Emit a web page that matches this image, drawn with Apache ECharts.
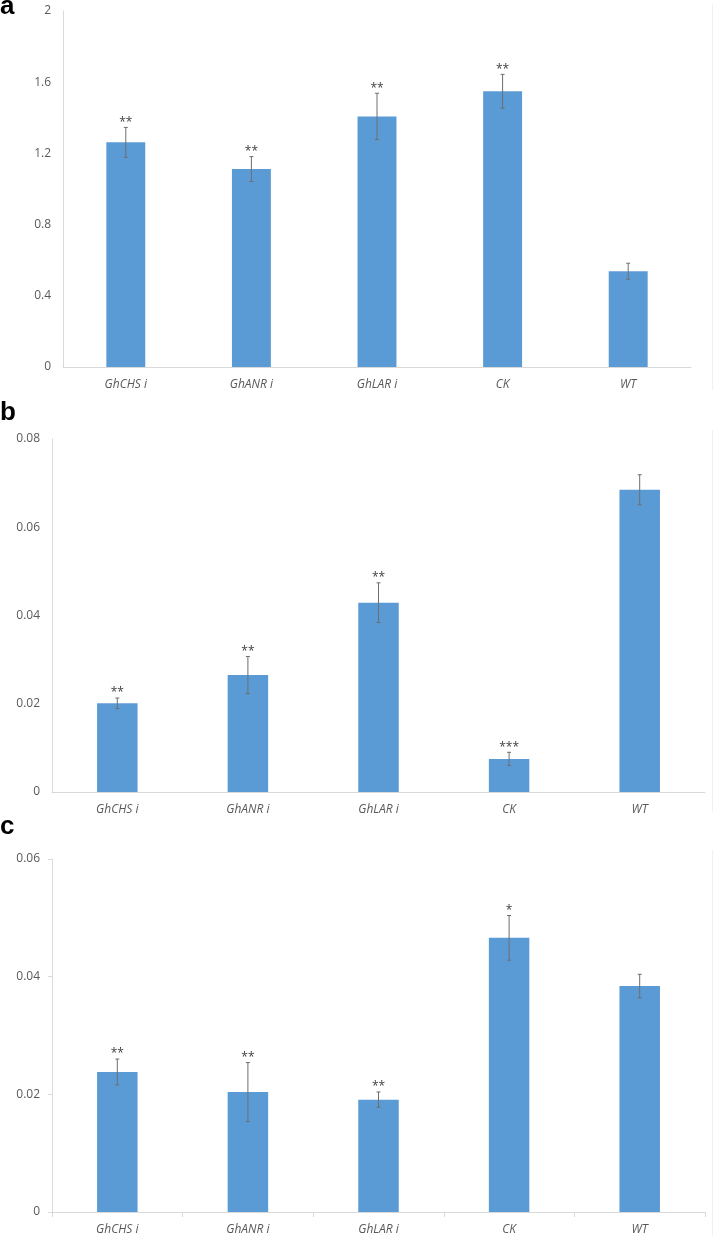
<!DOCTYPE html>
<html>
<head>
<meta charset="utf-8">
<style>
  html, body { margin: 0; padding: 0; background: #fff; }
  #chart { width: 714px; height: 1241px; }
</style>
<script src="https://cdn.jsdelivr.net/npm/echarts@6/dist/echarts.min.js"></script>
</head>
<body>
<div id="chart"></div>
<script>
// ---- data ----
var categories = ['GhCHS i', 'GhANR i', 'GhLAR i', 'CK', 'WT'];

var valuesA = [1.262, 1.112, 1.408, 1.549, 0.538];
var errorsA = [0.084, 0.070, 0.130, 0.095, 0.045];
var starsA  = ['**', '**', '**', '**', ''];

var valuesB = [0.0201, 0.0265, 0.0429, 0.0075, 0.0685];
var errorsB = [0.0012, 0.0042, 0.0045, 0.0015, 0.0034];
var starsB  = ['**', '**', '**', '***', ''];

var valuesC = [0.0238, 0.0204, 0.0191, 0.0466, 0.0384];
var errorsC = [0.0022, 0.0050, 0.0013, 0.0038, 0.0020];
var starsC  = ['**', '**', '**', '*', ''];

var yMaxA = 2,    yStepA = 0.4;
var yMaxB = 0.08, yStepB = 0.02;
var yMaxC = 0.06, yStepC = 0.02;

var panelLabels = ['a', 'b', 'c'];

// ---- styles ----
var BAR = '#5B9BD5';
var AXIS = '#D9D9D9';
var TXT = '#595959';
var ERR = '#6E6E6E';
var FONT = '"Open Sans", "DejaVu Sans", sans-serif';

var chart = echarts.init(document.getElementById('chart'), null, { renderer: 'canvas' });

function errData(vals, errs) {
  return vals.map(function (v, i) { return [i, v, errs[i]]; });
}

function makeErrSeries(idx, vals, errs, stars) {
  return {
    type: 'custom',
    xAxisIndex: idx,
    yAxisIndex: idx,
    z: 5,
    silent: true,
    data: errData(vals, errs),
    renderItem: function (params, api) {
      var x = api.value(0), y = api.value(1), e = api.value(2);
      var top = api.coord([x, y + e]);
      var bot = api.coord([x, y - e]);
      var cap = 2;
      var st = { stroke: ERR, lineWidth: 1 };
      var children = [
        { type: 'line', shape: { x1: top[0], y1: top[1], x2: bot[0], y2: bot[1] }, style: st },
        { type: 'line', shape: { x1: top[0] - cap, y1: top[1], x2: top[0] + cap, y2: top[1] }, style: st },
        { type: 'line', shape: { x1: bot[0] - cap, y1: bot[1], x2: bot[0] + cap, y2: bot[1] }, style: st }
      ];
      var s = stars[params.dataIndex];
      if (s) {
        children.push({
          type: 'text',
          style: {
            text: s, x: top[0], y: top[1] - 5,
            align: 'center', verticalAlign: 'middle',
            fill: '#404040', font: '12px ' + FONT
          }
        });
      }
      return { type: 'group', children: children };
    }
  };
}

var grids = [
  { left: 63, right: 23, top: 11, height: 356 },
  { left: 52, right: 9, top: 439, height: 353 },
  { left: 52, right: 9, top: 859, height: 353 }
];

function xAxisDef(idx, ticks) {
  return {
    type: 'category', gridIndex: idx, data: categories,
    axisLine: { lineStyle: { color: AXIS, width: 1 } },
    axisTick: { show: ticks, length: 5, lineStyle: { color: AXIS } },
    axisLabel: { color: TXT, fontStyle: 'italic', fontSize: 12, fontFamily: FONT, margin: 12 },
    splitLine: { show: false }
  };
}
function yAxisDef(idx, max, step, ticks) {
  return {
    type: 'value', gridIndex: idx, min: 0, max: max, interval: step,
    axisLine: { show: true, lineStyle: { color: AXIS, width: 1 } },
    axisTick: { show: ticks, length: 4, lineStyle: { color: AXIS } },
    axisLabel: { color: TXT, fontSize: 12, fontFamily: FONT, margin: 12 },
    splitLine: { show: false }
  };
}
function barSeries(idx, vals) {
  return {
    type: 'bar', xAxisIndex: idx, yAxisIndex: idx, data: vals,
    barWidth: '31%', itemStyle: { color: BAR }, silent: true, z: 2
  };
}

var option = {
  animation: false,
  backgroundColor: '#ffffff',
  grid: grids,
  xAxis: [xAxisDef(0, false), xAxisDef(1, false), xAxisDef(2, true)],
  yAxis: [yAxisDef(0, yMaxA, yStepA, false), yAxisDef(1, yMaxB, yStepB, false), yAxisDef(2, yMaxC, yStepC, true)],
  series: [
    barSeries(0, valuesA), makeErrSeries(0, valuesA, errorsA, starsA),
    barSeries(1, valuesB), makeErrSeries(1, valuesB, errorsB, starsB),
    barSeries(2, valuesC), makeErrSeries(2, valuesC, errorsC, starsC)
  ],
  graphic: [
    { type: 'text', left: 0, top: -6, style: { text: panelLabels[0], font: 'bold 26px "Liberation Sans", Arial, sans-serif', fill: '#000' } },
    { type: 'text', left: 0, top: 400, style: { text: panelLabels[1], font: 'bold 26px "Liberation Sans", Arial, sans-serif', fill: '#000' } },
    { type: 'text', left: 0, top: 814, style: { text: panelLabels[2], font: 'bold 26px "Liberation Sans", Arial, sans-serif', fill: '#000' } },
    { type: 'line', shape: { x1: 712.5, y1: 4, x2: 712.5, y2: 390 }, style: { stroke: '#F0F0F0', lineWidth: 1 } },
    { type: 'line', shape: { x1: 712.5, y1: 430, x2: 712.5, y2: 812 }, style: { stroke: '#F0F0F0', lineWidth: 1 } },
    { type: 'line', shape: { x1: 712.5, y1: 850, x2: 712.5, y2: 1236 }, style: { stroke: '#F0F0F0', lineWidth: 1 } }
  ]
};
chart.setOption(option);
</script>
</body>
</html>
